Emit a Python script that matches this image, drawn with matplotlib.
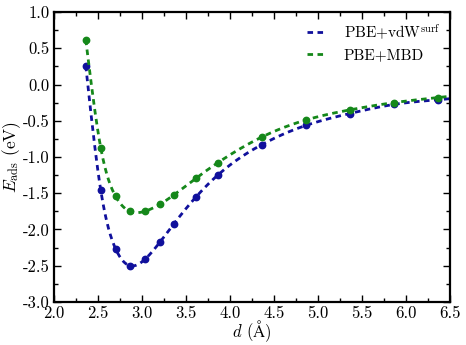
import numpy as np
import matplotlib
matplotlib.use('Agg')
import matplotlib.pyplot as plt

plt.rcParams['font.family'] = 'serif'
plt.rcParams['font.serif'] = ['cmr10']
plt.rcParams['mathtext.fontset'] = 'cm'
plt.rcParams['axes.unicode_minus'] = False
plt.rcParams['axes.formatter.use_mathtext'] = False

# distances (Angstrom) and adsorption energies (eV)
d = [2.36, 2.53, 2.70, 2.86, 3.03, 3.20, 3.36, 3.61, 3.86, 4.36, 4.86, 5.36, 5.86, 6.36]
e_vdw = [0.26, -1.455, -2.27, -2.50, -2.415, -2.18, -1.925, -1.555, -1.25,
         -0.83, -0.565, -0.40, -0.275, -0.21]
e_mbd = [0.62, -0.87, -1.545, -1.75, -1.75, -1.655, -1.525, -1.295, -1.08,
         -0.725, -0.49, -0.35, -0.25, -0.18]

labels = ['PBE+vdW$^{\\rm surf}$', 'PBE+MBD']
colors = ['#10109c', '#15881a']


def spline_curve(x, y, xs):
  # natural cubic spline, only used to draw the smooth dashed line
  x = np.asarray(x, float)
  y = np.asarray(y, float)
  n = len(x)
  h = np.diff(x)
  A = np.zeros((n, n))
  b = np.zeros(n)
  A[0, 0] = 1
  A[-1, -1] = 1
  for i in range(1, n - 1):
    A[i, i - 1] = h[i - 1]
    A[i, i] = 2 * (h[i - 1] + h[i])
    A[i, i + 1] = h[i]
    b[i] = 3 * ((y[i + 1] - y[i]) / h[i] - (y[i] - y[i - 1]) / h[i - 1])
  c = np.linalg.solve(A, b)
  out = []
  for t in xs:
    i = min(max(np.searchsorted(x, t) - 1, 0), n - 2)
    dt = t - x[i]
    bb = (y[i + 1] - y[i]) / h[i] - h[i] * (2 * c[i] + c[i + 1]) / 3
    dd = (c[i + 1] - c[i]) / (3 * h[i])
    out.append(y[i] + bb * dt + c[i] * dt ** 2 + dd * dt ** 3)
  return np.array(out)


fig = plt.figure(figsize=(4.66, 3.45), dpi=100)
ax = fig.add_axes([0.116, 0.125, 0.85, 0.840])

xs = np.linspace(d[0], 6.5, 400)
for e, lab, col in zip([e_vdw, e_mbd], labels, colors):
  ax.plot(xs, spline_curve(d, e, xs), ls=(0, (2.0, 1.6)), lw=2, color=col, label=lab)
  ax.plot(d, e, 'o', ms=4.6, color=col, mec=col)

ax.set_xlim(2.0, 6.5)
ax.set_ylim(-3.0, 1.0)
ax.set_xticks(np.arange(2.0, 6.51, 0.5))
ax.set_yticks(np.arange(-3.0, 1.01, 0.5))
ax.set_xticks(np.arange(2.25, 6.5, 0.5), minor=True)
ax.set_yticks(np.arange(-2.75, 1.0, 0.5), minor=True)
ax.xaxis.set_major_formatter(matplotlib.ticker.FormatStrFormatter('%.1f'))
ax.yaxis.set_major_formatter(matplotlib.ticker.FormatStrFormatter('%.1f'))
ax.tick_params(which='both', direction='in', top=True, right=True, labelsize=12, width=1)
ax.tick_params(which='major', length=5, pad=3)
ax.tick_params(which='minor', length=3)
for s in ax.spines.values():
  s.set_linewidth(1.6)

ax.set_xlabel('$d$ ($\\mathrm{\\AA}$)', fontsize=12, labelpad=-2)
ax.set_ylabel('$E_{\\rm ads}$ (eV)', fontsize=12.5, labelpad=0)

ax.legend(loc='upper right', frameon=False, fontsize=11, handlelength=1.2,
          handletextpad=1.2, borderaxespad=0.25, labelspacing=0.45)

fig.savefig('out.png', dpi=100)
